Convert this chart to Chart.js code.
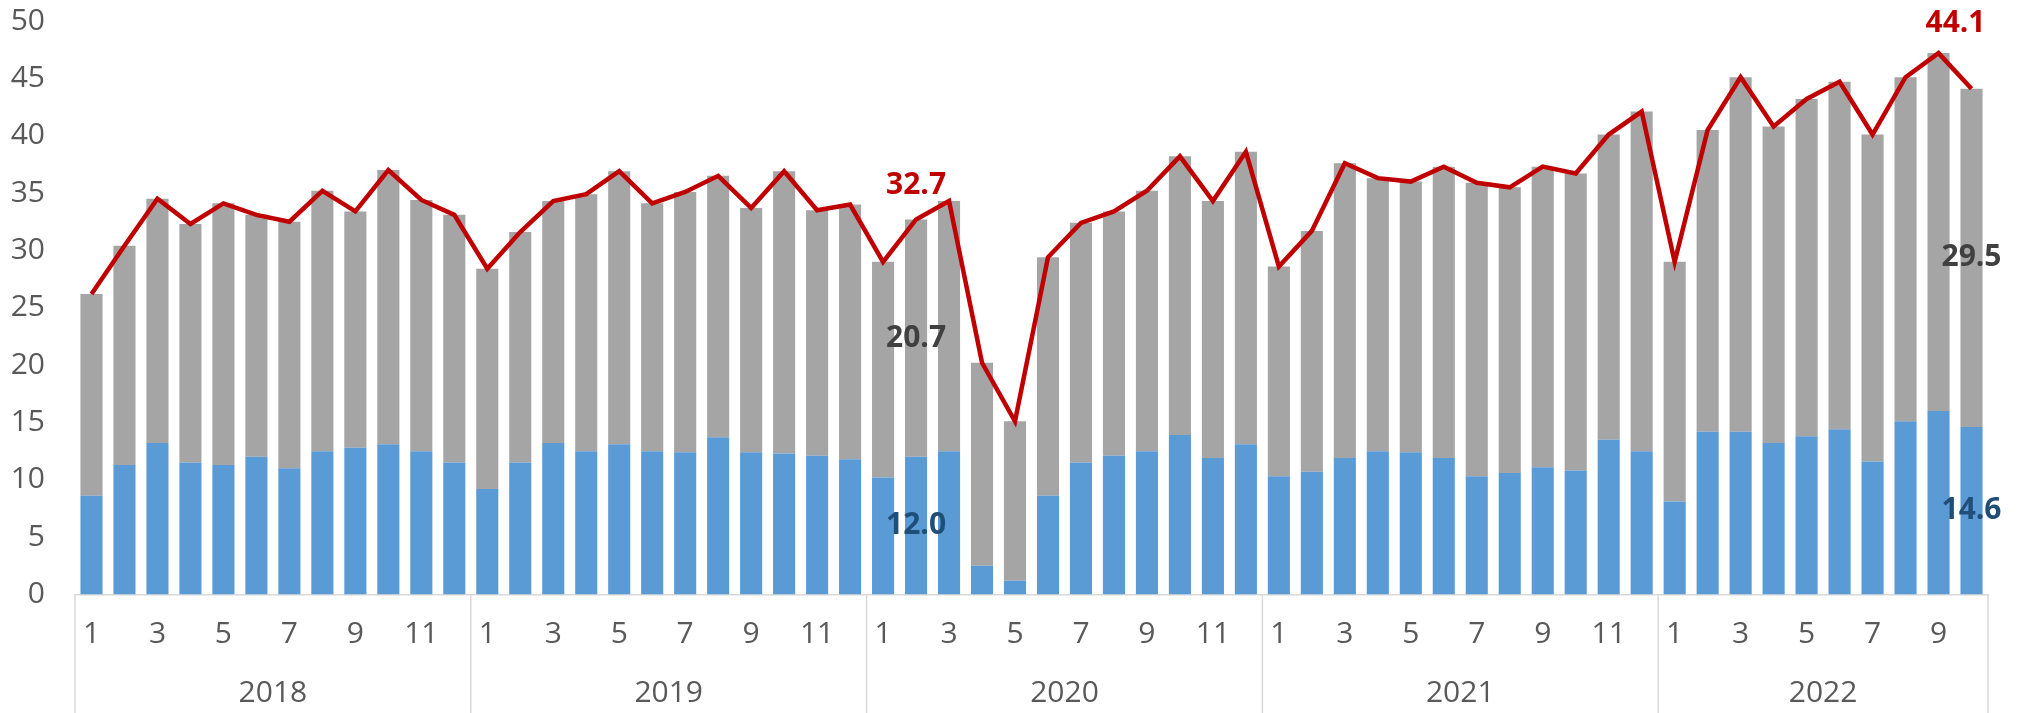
<!DOCTYPE html>
<html>
<head>
<meta charset="utf-8">
<title>Monthly totals 2018-2022</title>
<script src="https://cdn.jsdelivr.net/npm/chart.js@4/dist/chart.umd.min.js"></script>
<style>
    html, body { margin: 0; padding: 0; background: #ffffff; }
    #wrap { width: 2020px; height: 713px; position: relative; }
</style>
</head>
<body>
<div id="wrap"><canvas id="chart"></canvas></div>
<script>
// month numbers and the year each group belongs to
var years = ['2018', '2019', '2020', '2021', '2022'];
var monthsPerYear = [12, 12, 12, 12, 10];

// blue part (bottom of stack)
var blueVals = [
    8.6, 11.3, 13.2, 11.5, 11.3, 12.0, 11.0, 12.5, 12.8, 13.1, 12.5, 11.5,
    9.2, 11.5, 13.2, 12.5, 13.1, 12.5, 12.4, 13.7, 12.4, 12.3, 12.1, 11.8,
    10.2, 12.0, 12.5, 2.5, 1.2, 8.6, 11.5, 12.1, 12.5, 13.9, 11.9, 13.1,
    10.3, 10.7, 11.9, 12.5, 12.4, 11.9, 10.3, 10.6, 11.1, 10.8, 13.5, 12.5,
    8.1, 14.2, 14.2, 13.2, 13.8, 14.4, 11.6, 15.1, 16.0, 14.6
];

// grey part (top of stack)
var greyVals = [
    17.6, 19.1, 21.3, 20.8, 22.8, 21.1, 21.5, 22.7, 20.6, 23.9, 21.9, 21.6,
    19.2, 20.1, 21.1, 22.4, 23.8, 21.6, 22.7, 22.8, 21.3, 24.6, 21.4, 22.2,
    18.8, 20.7, 21.8, 17.7, 13.9, 20.8, 20.9, 21.3, 22.7, 24.3, 22.4, 25.5,
    18.3, 21.0, 25.7, 23.8, 23.6, 25.4, 25.6, 24.9, 26.2, 25.9, 26.6, 29.6,
    20.9, 26.3, 30.9, 27.6, 29.4, 30.3, 28.5, 30.0, 31.2, 29.5
];

// red line (total)
var totalVals = [
    26.2, 30.4, 34.5, 32.3, 34.1, 33.1, 32.5, 35.2, 33.4, 37.0, 34.4, 33.1,
    28.4, 31.6, 34.3, 34.9, 36.9, 34.1, 35.1, 36.5, 33.7, 36.9, 33.5, 34.0,
    29.0, 32.7, 34.3, 20.2, 15.1, 29.4, 32.4, 33.4, 35.2, 38.2, 34.3, 38.6,
    28.6, 31.7, 37.6, 36.3, 36.0, 37.3, 35.9, 35.5, 37.3, 36.7, 40.1, 42.1,
    29.0, 40.5, 45.1, 40.8, 43.2, 44.7, 40.1, 45.1, 47.2, 44.1
];

// which months carry value labels
var labelledMonths = [25, 57];

var yTicks = [0, 5, 10, 15, 20, 25, 30, 35, 40, 45, 50];

var monthLabels = [];
years.forEach(function (y, i) {
    for (var m = 1; m <= monthsPerYear[i]; m++) monthLabels.push(String(m));
});

var FONT = '"Open Sans", "DejaVu Sans", sans-serif';
var AXIS_COLOR = '#D9D9D9';
var TEXT_COLOR = '#595959';

// year row under the month labels, plus group separators
var yearGroups = {
    id: 'yearGroups',
    afterDraw: function (chart) {
        var ctx = chart.ctx;
        var xs = chart.scales.x;
        var area = chart.chartArea;
        var half = (xs.getPixelForValue(1) - xs.getPixelForValue(0)) / 2;
        var start = 0;
        ctx.save();
        ctx.strokeStyle = AXIS_COLOR;
        ctx.lineWidth = 1.5;
        ctx.fillStyle = TEXT_COLOR;
        ctx.font = '30px ' + FONT;
        ctx.textAlign = 'center';
        ctx.textBaseline = 'middle';
        years.forEach(function (y, i) {
            var left = xs.getPixelForValue(start) - half;
            var right = xs.getPixelForValue(start + monthsPerYear[i] - 1) + half;
            ctx.beginPath();
            ctx.moveTo(left, area.bottom);
            ctx.lineTo(left, chart.height);
            ctx.stroke();
            if (i === years.length - 1) {
                ctx.beginPath();
                ctx.moveTo(right, area.bottom);
                ctx.lineTo(right, chart.height);
                ctx.stroke();
            }
            ctx.fillText(y, (left + right) / 2, 693);
            start += monthsPerYear[i];
        });
        ctx.restore();
    }
};

// value labels for the highlighted months
var valueLabels = {
    id: 'valueLabels',
    afterDatasetsDraw: function (chart) {
        var ctx = chart.ctx;
        var xs = chart.scales.x;
        var ys = chart.scales.y;
        ctx.save();
        ctx.font = 'bold 30px ' + FONT;
        ctx.textAlign = 'center';
        ctx.textBaseline = 'middle';
        labelledMonths.forEach(function (i, n) {
            var x = xs.getPixelForValue(i);
            var b = blueVals[i], g = greyVals[i], t = totalVals[i];
            ctx.fillStyle = '#1F4E79';
            ctx.fillText(b.toFixed(1), x, ys.getPixelForValue(b / 2));
            ctx.fillStyle = '#404040';
            ctx.fillText(g.toFixed(1), x, ys.getPixelForValue(b + g / 2));
            ctx.fillStyle = '#C00000';
            if (n === labelledMonths.length - 1) {
                ctx.fillText(t.toFixed(1), x - 16, ys.getPixelForValue(t) - 65);
            } else {
                ctx.fillText(t.toFixed(1), x, ys.getPixelForValue(t) - 34);
            }
        });
        ctx.restore();
    }
};

new Chart(document.getElementById('chart'), {
    data: {
        labels: monthLabels,
        datasets: [{
            type: 'line',
            label: 'Total',
            data: totalVals,
            stack: 'total',
            borderColor: '#C00000',
            borderWidth: 4.5,
            pointRadius: 0,
            tension: 0,
            order: 0
        }, {
            type: 'bar',
            label: 'Blue',
            data: blueVals,
            stack: 'parts',
            backgroundColor: '#5B9BD5',
            categoryPercentage: 1,
            barPercentage: 0.67,
            order: 1
        }, {
            type: 'bar',
            label: 'Grey',
            data: greyVals,
            stack: 'parts',
            backgroundColor: '#A5A5A5',
            categoryPercentage: 1,
            barPercentage: 0.67,
            order: 1
        }]
    },
    options: {
        responsive: true,
        maintainAspectRatio: false,
        animation: false,
        layout: {
            padding: { top: 21, right: 32, left: 0, bottom: 0 }
        },
        plugins: {
            legend: { display: false },
            tooltip: { enabled: false }
        },
        scales: {
            x: {
                stacked: true,
                grid: { display: false, drawTicks: false },
                border: { display: true, color: AXIS_COLOR, width: 1.5 },
                ticks: {
                    autoSkip: false,
                    maxRotation: 0,
                    color: TEXT_COLOR,
                    font: { family: FONT, size: 30 },
                    padding: 22,
                    callback: function (v, i) {
                        var m = monthLabels[i];
                        return (Number(m) % 2 === 1) ? m : '';
                    }
                },
                afterFit: function (scale) { scale.height = 118.5; }
            },
            y: {
                stacked: true,
                min: 0,
                max: 50,
                afterBuildTicks: function (scale) {
                    scale.ticks = yTicks.map(function (v) { return { value: v }; });
                },
                grid: { display: false, drawTicks: false },
                border: { display: false },
                ticks: {
                    color: TEXT_COLOR,
                    font: { family: FONT, size: 30 },
                    padding: 30
                },
                afterFit: function (scale) {
                    scale.width = 75;
                    // keep the tick padding from pushing the plot down
                    scale.paddingTop = 0;
                    scale.paddingBottom = 0;
                }
            }
        }
    },
    plugins: [yearGroups, valueLabels]
});
</script>
</body>
</html>
